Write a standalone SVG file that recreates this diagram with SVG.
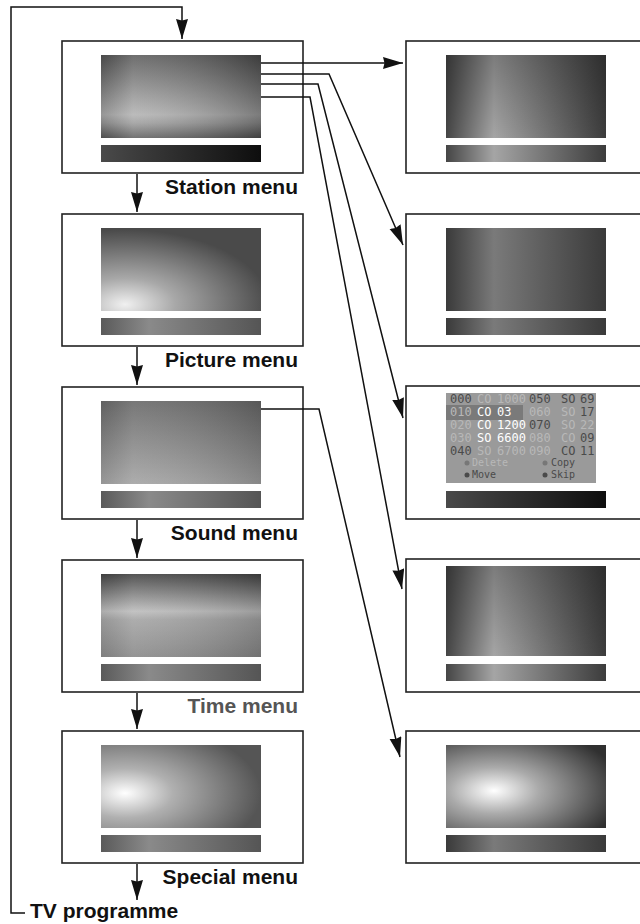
<svg xmlns="http://www.w3.org/2000/svg" width="640" height="924" viewBox="0 0 640 924">
<style>
.box{fill:#fff;stroke:#222;stroke-width:1.6}
.lbl{font-family:"Liberation Sans",Arial,sans-serif;font-weight:bold;font-size:21px;fill:#111}
.conn{fill:none;stroke:#111;stroke-width:1.5}
.tb{font-family:"DejaVu Sans Mono","Liberation Mono",monospace;font-size:12px}
.d{fill:#4a4a4a}.f{fill:#b8b8b8}.w{fill:#fff}
.lg{font-family:"DejaVu Sans Mono","Liberation Mono",monospace;font-size:10px}
</style>
<defs>
<marker id="ah" markerUnits="userSpaceOnUse" markerWidth="22" markerHeight="14" refX="20" refY="6" orient="auto">
<path d="M0,0 L20,6 L0,12 L1.5,6 Z" fill="#111"/>
</marker>
<linearGradient id="vStation" x1="0" y1="0" x2="0" y2="1"><stop offset="0" stop-color="#555"/><stop offset="0.72" stop-color="#b0b0b0"/><stop offset="0.82" stop-color="#9a9a9a"/><stop offset="1" stop-color="#5a5a5a"/></linearGradient>
<linearGradient id="hShade" x1="0" y1="0" x2="1" y2="0"><stop offset="0" stop-color="#000" stop-opacity="0.15"/><stop offset="0.2" stop-color="#fff" stop-opacity="0.15"/><stop offset="1" stop-color="#000" stop-opacity="0.3"/></linearGradient>
<linearGradient id="barDark" x1="0" y1="0" x2="1" y2="0"><stop offset="0" stop-color="#4a4a4a"/><stop offset="0.25" stop-color="#3a3a3a"/><stop offset="1" stop-color="#0e0e0e"/></linearGradient>
<linearGradient id="barMid" x1="0" y1="0" x2="1" y2="0"><stop offset="0" stop-color="#5a5a5a"/><stop offset="0.3" stop-color="#8a8a8a"/><stop offset="1" stop-color="#555"/></linearGradient>
<radialGradient id="rPicture" cx="0.15" cy="0.92" r="0.9" fx="0.15" fy="0.92"><stop offset="0" stop-color="#f0f0f0"/><stop offset="0.35" stop-color="#a8a8a8"/><stop offset="1" stop-color="#4a4a4a"/></radialGradient>
<linearGradient id="vSound" x1="0" y1="0" x2="0" y2="1"><stop offset="0" stop-color="#6a6a6a"/><stop offset="1" stop-color="#a5a5a5"/></linearGradient>
<linearGradient id="vTime" x1="0" y1="0" x2="0" y2="1"><stop offset="0" stop-color="#444"/><stop offset="0.45" stop-color="#bdbdbd"/><stop offset="0.55" stop-color="#a5a5a5"/><stop offset="1" stop-color="#8a8a8a"/></linearGradient>
<radialGradient id="rSpecial" cx="0.15" cy="0.58" r="0.85" fx="0.15" fy="0.58"><stop offset="0" stop-color="#fff"/><stop offset="0.35" stop-color="#b0b0b0"/><stop offset="1" stop-color="#555"/></radialGradient>
<linearGradient id="hR1" x1="0" y1="0" x2="1" y2="0"><stop offset="0" stop-color="#454545"/><stop offset="0.3" stop-color="#a5a5a5"/><stop offset="1" stop-color="#3c3c3c"/></linearGradient>
<linearGradient id="hR2" x1="0" y1="0" x2="1" y2="0"><stop offset="0" stop-color="#3a3a3a"/><stop offset="0.3" stop-color="#7a7a7a"/><stop offset="1" stop-color="#3a3a3a"/></linearGradient>
<linearGradient id="vDark" x1="0" y1="0" x2="0" y2="1"><stop offset="0" stop-color="#000" stop-opacity="0.25"/><stop offset="1" stop-color="#000" stop-opacity="0"/></linearGradient>
<radialGradient id="rR5" cx="0.3" cy="0.55" r="0.8" fx="0.3" fy="0.55"><stop offset="0" stop-color="#fff"/><stop offset="0.35" stop-color="#aaa"/><stop offset="1" stop-color="#303030"/></radialGradient>
</defs>

<g id="station-menu">
<rect class="box" x="62" y="41" width="241" height="132"/>
<rect x="101" y="55" width="160" height="83" fill="url(#vStation)"/>
<rect x="101" y="55" width="160" height="83" fill="url(#hShade)"/>
<rect x="101" y="145" width="160" height="17" fill="url(#barDark)"/>
<text class="lbl" x="298" y="194" text-anchor="end">Station menu</text>
</g>
<g id="picture-menu">
<rect class="box" x="62" y="214" width="241" height="132"/>
<rect x="101" y="228" width="160" height="83" fill="url(#rPicture)"/>
<rect x="101" y="318" width="160" height="17" fill="url(#barMid)"/>
<text class="lbl" x="298" y="367" text-anchor="end">Picture menu</text>
</g>
<g id="sound-menu">
<rect class="box" x="62" y="387" width="241" height="132"/>
<rect x="101" y="401" width="160" height="83" fill="url(#vSound)"/>
<rect x="101" y="401" width="160" height="83" fill="url(#hShade)" opacity="0.6"/>
<rect x="101" y="491" width="160" height="17" fill="url(#barMid)"/>
<text class="lbl" x="298" y="540" text-anchor="end">Sound menu</text>
</g>
<g id="time-menu">
<rect class="box" x="62" y="560" width="241" height="132"/>
<rect x="101" y="574" width="160" height="83" fill="url(#vTime)"/>
<rect x="101" y="574" width="160" height="83" fill="url(#hShade)" opacity="0.6"/>
<rect x="101" y="664" width="160" height="17" fill="url(#barMid)"/>
<text class="lbl" x="298" y="713" text-anchor="end" style="fill:#555">Time menu</text>
</g>
<g id="special-menu">
<rect class="box" x="62" y="731" width="241" height="132"/>
<rect x="101" y="745" width="160" height="83" fill="url(#rSpecial)"/>
<rect x="101" y="835" width="160" height="17" fill="url(#barMid)"/>
<text class="lbl" x="298" y="884" text-anchor="end">Special menu</text>
</g>
<g id="tv-programme">
<text class="lbl" x="30" y="918">TV programme</text>
</g>

<g id="right-1">
<rect class="box" x="406" y="41" width="240" height="132"/>
<rect x="446" y="55" width="160" height="83" fill="url(#hR1)"/>
<rect x="446" y="55" width="160" height="83" fill="url(#vDark)"/>
<rect x="446" y="145" width="160" height="17" fill="url(#hR1)"/>
</g>
<g id="right-2">
<rect class="box" x="406" y="214" width="240" height="132"/>
<rect x="446" y="228" width="160" height="83" fill="url(#hR2)"/>
<rect x="446" y="318" width="160" height="17" fill="url(#hR2)"/>
</g>
<g id="right-3">
<rect class="box" x="406" y="386" width="240" height="133"/>
<rect x="446" y="393" width="150" height="90" fill="#9a9a9a"/>
<rect x="446" y="405" width="77" height="15" fill="#7a7a7a"/>
<g class="tb">
<text x="450" y="403" class="d">000</text><text x="477" y="403" class="f">CO</text><text x="497" y="403" class="f">1000</text><text x="529" y="403" class="d">050</text><text x="561" y="403" class="d">SO</text><text x="580" y="403" class="d">69</text>
<text x="450" y="416" class="f">010</text><text x="477" y="416" class="w">CO</text><text x="497" y="416" class="w">03</text><text x="529" y="416" class="f">060</text><text x="561" y="416" class="f">SO</text><text x="580" y="416" class="d">17</text>
<text x="450" y="429" class="f">020</text><text x="477" y="429" class="w">CO</text><text x="497" y="429" class="w">1200</text><text x="529" y="429" class="d">070</text><text x="561" y="429" class="f">SO</text><text x="580" y="429" class="f">22</text>
<text x="450" y="442" class="f">030</text><text x="477" y="442" class="w">SO</text><text x="497" y="442" class="w">6600</text><text x="529" y="442" class="f">080</text><text x="561" y="442" class="f">CO</text><text x="580" y="442" class="d">09</text>
<text x="450" y="455" class="d">040</text><text x="477" y="455" class="f">SO</text><text x="497" y="455" class="f">6700</text><text x="529" y="455" class="f">090</text><text x="561" y="455" class="d">CO</text><text x="580" y="455" class="d">11</text>
</g>
<g class="lg">
<circle cx="467" cy="463" r="2.5" fill="#777"/><text x="472" y="466" class="f">Delete</text>
<circle cx="545" cy="463" r="2.5" fill="#777"/><text x="551" y="466" class="d">Copy</text>
<circle cx="467" cy="475" r="2.5" fill="#4a4a4a"/><text x="472" y="478" class="d">Move</text>
<circle cx="545" cy="475" r="2.5" fill="#4a4a4a"/><text x="551" y="478" class="d">Skip</text>
</g>
<rect x="446" y="491" width="160" height="17" fill="url(#barDark)"/>
</g>
<g id="right-4">
<rect class="box" x="406" y="559" width="240" height="133"/>
<rect x="446" y="566" width="160" height="90" fill="url(#hR1)"/>
<rect x="446" y="566" width="160" height="90" fill="url(#vDark)"/>
<rect x="446" y="664" width="160" height="17" fill="url(#hR1)"/>
</g>
<g id="right-5">
<rect class="box" x="406" y="731" width="240" height="132"/>
<rect x="446" y="745" width="160" height="83" fill="url(#rR5)"/>
<rect x="446" y="835" width="160" height="17" fill="url(#hR2)"/>
</g>

<g id="connectors">
<path class="conn" d="M25 913 H11 V7 H182 V39" marker-end="url(#ah)"/>
<path class="conn" d="M137 174 V212" marker-end="url(#ah)"/>
<path class="conn" d="M137 347 V385" marker-end="url(#ah)"/>
<path class="conn" d="M137 520 V558" marker-end="url(#ah)"/>
<path class="conn" d="M137 693 V729" marker-end="url(#ah)"/>
<path class="conn" d="M137 864 V900" marker-end="url(#ah)"/>
<path class="conn" d="M261 63 H403" marker-end="url(#ah)"/>
<path class="conn" d="M261 74 H329 L403 245" marker-end="url(#ah)"/>
<path class="conn" d="M261 84 H318 L403 418" marker-end="url(#ah)"/>
<path class="conn" d="M261 97 H310 L402 589" marker-end="url(#ah)"/>
<path class="conn" d="M261 409 H319 L400 757" marker-end="url(#ah)"/>
</g>
</svg>
